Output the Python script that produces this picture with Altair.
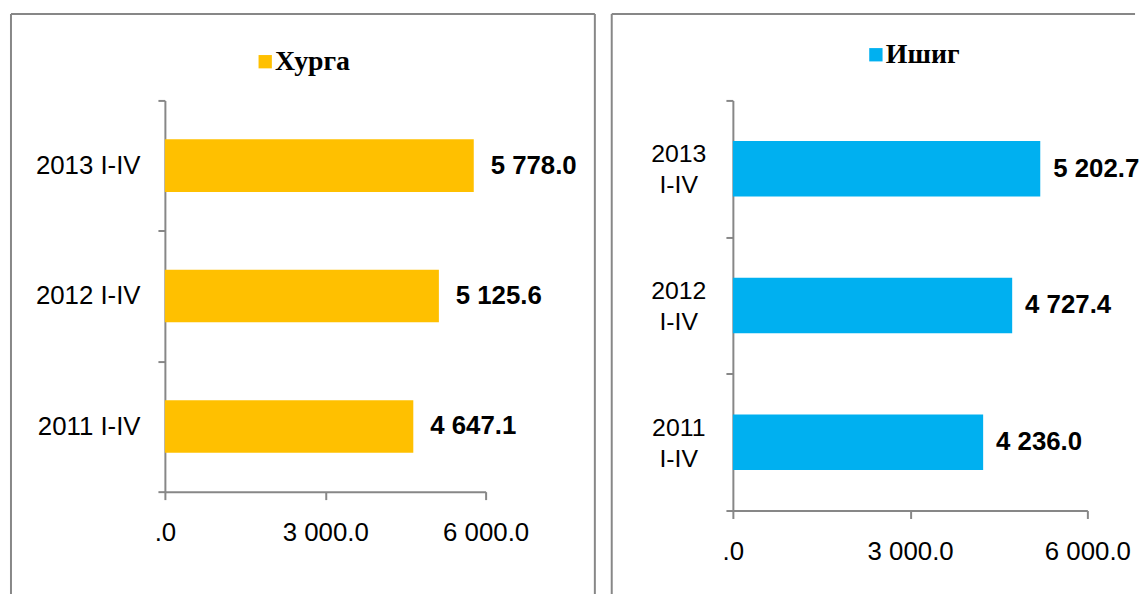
import altair as alt
import pandas as pd

categories = ["2013 I-IV", "2012 I-IV", "2011 I-IV"]
khurga = [5778.0, 5125.6, 4647.1]
ishig = [5202.7, 4727.4, 4236.0]
x_ticks = [0, 3000, 6000]
series_names = ["Хурга", "Ишиг"]
colors = ["#FFC000", "#00B0F0"]

GRAY = "#878787"
SHIFTED_SQUARE = "M-0.4,-1H1.6V1H-0.4Z"


def fmt(v):
    return f"{v:,.1f}".replace(",", " ")


def make_df(vals, name):
    df = pd.DataFrame({"cat": categories, "val": vals, "series": name})
    df["label"] = df["val"].map(fmt)
    return df


def border(lines):
    d = pd.DataFrame({"a": [0]})
    out = []
    for (x1, x2, y1, y2) in lines:
        out.append(
            alt.Chart(d).mark_rule(color=GRAY, strokeWidth=2).encode(
                x=alt.value(x1), x2=alt.value(x2), y=alt.value(y1), y2=alt.value(y2)
            )
        )
    return out


def panel(df, name, color, width, height, bar_size, dx, yaxis, lx, ly, lines):
    base = alt.Chart(df)
    xenc = alt.X(
        "val:Q",
        scale=alt.Scale(domain=[0, 6000], nice=False),
        axis=alt.Axis(
            title=None,
            values=x_ticks,
            grid=False,
            labelExpr="datum.value == 0 ? '.0' : replace(format(datum.value, ',.1f'), ',', ' ')",
            labelFontSize=26,
            labelPadding=20,
            tickSize=8,
            labelFlush=False,
            labelOverlap=False,
        ),
    )
    yenc = alt.Y(
        "cat:N",
        sort=categories,
        scale=alt.Scale(paddingInner=0, paddingOuter=0),
        axis=yaxis,
    )
    bars = base.mark_bar(size=bar_size).encode(
        x=xenc,
        y=yenc,
        color=alt.Color(
            "series:N",
            scale=alt.Scale(domain=[name], range=[color]),
            legend=alt.Legend(
                title=None,
                orient="none",
                legendX=lx,
                legendY=ly,
                symbolType=SHIFTED_SQUARE,
                symbolSize=180,
                symbolStrokeWidth=0,
                labelFont="Liberation Serif",
                labelFontWeight="bold",
                labelFontSize=28,
                labelColor="black",
                labelOffset=0,
                padding=0,
            ),
        ),
    )
    text = base.mark_text(
        align="left", baseline="middle", dx=dx, fontSize=26, fontWeight="bold", color="black"
    ).encode(x="val:Q", y=alt.Y("cat:N", sort=categories), text="label:N")
    return alt.layer(*border(lines), bars, text).properties(width=width, height=height)


left_axis = alt.Axis(
    title=None,
    labelFontSize=26,
    labelPadding=18,
    tickBand="extent",
    tickSize=7,
)
right_axis = alt.Axis(
    title=None,
    labelFontSize=25,
    labelPadding=48,
    labelAlign="center",
    labelExpr="split(datum.label, ' ')",
    labelLineHeight=31,
    labelOffset=-15,
    tickBand="extent",
    tickSize=7,
)

left = panel(
    make_df(khurga, series_names[0]), series_names[0], colors[0],
    323, 394, 53, 17, left_axis, 83, -53,
    [(-155, -155, -87, 497), (-155, 433, -87, -87), (433, 433, -87, 497)],
)
right = panel(
    make_df(ishig, series_names[1]), series_names[1], colors[1],
    357, 413, 56, 13, right_axis, 126, -60,
    [(-122, -122, -87, 497), (-122, 405, -87, -87)],
)

chart = (
    alt.hconcat(left, right, spacing=249, bounds="flush")
    .resolve_scale(color="independent")
    .properties(padding={"left": 2, "top": 3, "right": 0, "bottom": 0})
    .configure(font="Liberation Sans")
    .configure_view(stroke=None)
    .configure_axis(
        domainColor=GRAY,
        domainWidth=2,
        tickColor=GRAY,
        tickWidth=2,
        labelColor="black",
        labelFont="Liberation Sans",
    )
)

chart.save("out.html", embed_options={"renderer": "svg", "actions": False})
